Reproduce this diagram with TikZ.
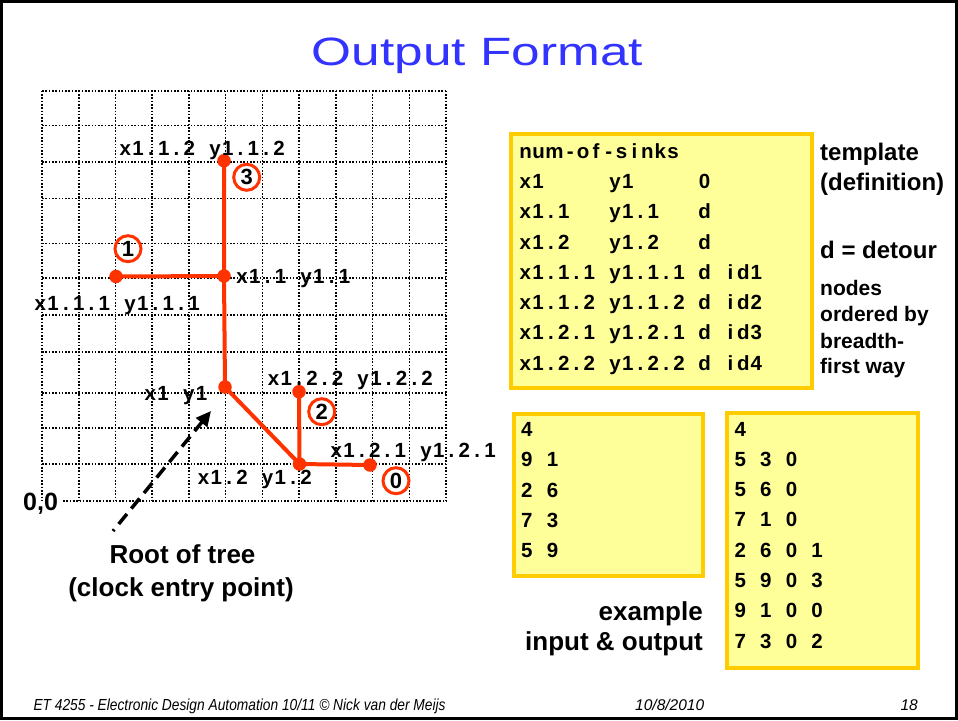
\documentclass[tikz,border=0pt]{standalone}
\usepackage{fontspec}
\setmainfont{Liberation Sans}
\usetikzlibrary{arrows.meta}
\definecolor{treered}{RGB}{255,51,0}
\definecolor{boxfill}{RGB}{255,255,153}
\definecolor{boxedge}{RGB}{255,204,0}
\definecolor{titleblue}{RGB}{51,51,255}
\newcommand\myfs[1]{\fontsize{#1}{#1}\selectfont}
\newcommand\monocell[1]{\setbox0\hbox{#1}\ifdim\wd0>12.3pt \makebox[\dimexpr\wd0+0.5pt\relax][c]{#1}\else\makebox[12.8pt][c]{#1}\fi}
\def\monoloop#1{\ifx#1\relax\else\monocell{#1}\expandafter\monoloop\fi}
\newcommand\mono[1]{\monoloop#1\relax}
\newcommand\monox[1]{\expandafter\monoloop#1\relax}
\tikzset{
  gridline/.style={line width=1.6pt, dash pattern=on 1.6pt off 1.7pt, black},
  redline/.style={line width=4pt, treered},
  reddot/.style={circle, fill=treered, inner sep=0pt, minimum size=13.5pt},
  numcirc/.style={circle, draw=treered, line width=3pt, inner sep=0pt, minimum size=26pt, font=\myfs{22}\bfseries},
  monotext/.style={anchor=base west, inner sep=0pt, font=\myfs{20.5}\bfseries},
  ybox/.style={rectangle, fill=boxfill, draw=boxedge, line width=4pt, anchor=north west, inner sep=0pt},
  plainlbl/.style={inner sep=0pt, font=\bfseries},
  dasharrow/.style={line width=3.5pt, dash pattern=on 13pt off 7pt, dash phase=11pt, -{Triangle[length=15pt,width=14pt]}}
}
\begin{document}
\begin{tikzpicture}[x=1pt,y=-1pt]
\useasboundingbox (0,0) rectangle (958,720);
\fill[white] (0,0) rectangle (958,720);
\draw[line width=3pt] (1.5,1.5) rectangle (956.5,718.5);

% title
\node[inner sep=0pt, anchor=base, text=titleblue] (title) at (477.5,65) {\scalebox{1.3}[1]{\myfs{39.5}Output Format}};

% grid
\foreach \yy in {90.7,125.5,161.7,198.3,243.3,278,315,351.7,393,428,464}
  \draw[gridline] (42,\yy) -- (446,\yy);
\draw[gridline] (63,501) -- (446,501);
\foreach \i in {0,...,11}
  \draw[gridline] ({42+\i*36.73},90.7) -- ({42+\i*36.73},501);

% tree
\node[reddot] (root) at (225,387) {};
\node[reddot] (n11) at (224,276) {};
\node[reddot] (n112) at (224,160.7) {};
\node[reddot] (n111) at (116,276.5) {};
\node[reddot] (n12) at (299.5,464) {};
\node[reddot] (n122) at (299,391.7) {};
\node[reddot] (n121) at (370,465) {};
\draw[redline] (root.center) -- (n11.center) -- (n112.center);
\draw[redline] (n11.center) -- (n111.center);
\draw[redline] (root.center) -- (n12.center) -- (n122.center);
\draw[redline] (n12.center) -- (n121.center);

% circled numbers
\node[numcirc] (c3) at (246.7,177.3) {3};
\node[numcirc] (c1) at (128,248.7) {1};
\node[numcirc] (c2) at (321.7,411.7) {2};
\node[numcirc] (c0) at (396,480.7) {0};

% grid labels
\node[monotext] (l112) at (118.8,155.3) {\mono{x1.1.2~y1.1.2}};
\node[monotext] (l11) at (235.5,283.5) {\mono{x1.1~y1.1}};
\node[monotext] (l111) at (33.8,310.5) {\mono{x1.1.1~y1.1.1}};
\node[monotext] (l1) at (143.8,400) {\mono{x1~y1}};
\node[monotext] (l122) at (267,385) {\mono{x1.2.2~y1.2.2}};
\node[monotext] (l121) at (329.8,457.3) {\mono{x1.2.1~y1.2.1}};
\node[monotext] (l12) at (197,484.3) {\mono{x1.2~y1.2}};
\node[plainlbl, anchor=base west, font=\myfs{25}\bfseries] (origin) at (23,510) {0,0};

% root arrow
\coordinate (atail) at (113,531);
\coordinate (ahead) at (211,411);
\draw[dasharrow] (atail) -- (ahead);
\node[plainlbl, anchor=base, font=\myfs{26}\bfseries] (rootlbl) at (182.5,563) {Root of tree};
\node[plainlbl, anchor=base, font=\myfs{26}\bfseries] (rootlbl2) at (181,596.7) {(clock entry point)};

% boxes
\node[ybox, minimum width=300.4pt, minimum height=254.3pt] (tmpl) at (509.3,132) {};
\node[ybox, minimum width=189pt, minimum height=161.7pt] (inbox) at (512,412) {};
\node[ybox, minimum width=191pt, minimum height=254.4pt] (outbox) at (724.7,411.3) {};

\foreach \t [count=\i from 0] in {num-of-sinks, x1~~~~~y1~~~~~0, x1.1~~~y1.1~~~d, x1.2~~~y1.2~~~d, x1.1.1~y1.1.1~d~id1, x1.1.2~y1.1.2~d~id2, x1.2.1~y1.2.1~d~id3, x1.2.2~y1.2.2~d~id4}
  \node[monotext] (tl\i) at (518.8,{158.3+\i*30.25}) {\monox{\t}};
\foreach \t [count=\i from 0] in {4, 9~1, 2~6, 7~3, 5~9}
  \node[monotext] (il\i) at (520.3,{436.7+\i*30.15}) {\monox{\t}};
\foreach \t [count=\i from 0] in {4, 5~3~0, 5~6~0, 7~1~0, 2~6~0~1, 5~9~0~3, 9~1~0~0, 7~3~0~2}
  \node[monotext] (ol\i) at (733.7,{436+\i*30.3}) {\monox{\t}};

% right labels
\node[plainlbl, anchor=base west, font=\myfs{24}\bfseries] (tpl1) at (820,160.7) {template};
\node[plainlbl, anchor=base west, font=\myfs{24}\bfseries] (tpl2) at (820,190) {(definition)};
\node[plainlbl, anchor=base west, font=\myfs{24}\bfseries] (detour) at (820,258.3) {d = detour};
\node[plainlbl, anchor=base west, font=\myfs{21}\bfseries] (ord1) at (820,295.7) {nodes};
\node[plainlbl, anchor=base west, font=\myfs{21}\bfseries] (ord2) at (820,321.7) {ordered by};
\node[plainlbl, anchor=base west, font=\myfs{21}\bfseries] (ord3) at (820,348) {breadth-};
\node[plainlbl, anchor=base west, font=\myfs{21}\bfseries] (ord4) at (820,373.3) {first way};
\node[plainlbl, anchor=base east, font=\myfs{26}\bfseries] (ex1) at (703,620) {example};
\node[plainlbl, anchor=base east, font=\myfs{26}\bfseries] (ex2) at (703,650.7) {input \& output};

% footer
\node[inner sep=0pt, anchor=base west] (foot1) at (33.3,710) {\scalebox{0.86}[1]{\myfs{16}\itshape ET 4255 - Electronic Design Automation 10/11 © Nick van der Meijs}};
\node[inner sep=0pt, anchor=base west] (foot2) at (635,710) {\myfs{15.5}\itshape 10/8/2010};
\node[inner sep=0pt, anchor=base east] (foot3) at (918,710) {\myfs{15.5}\itshape 18};
\end{tikzpicture}
\end{document}
